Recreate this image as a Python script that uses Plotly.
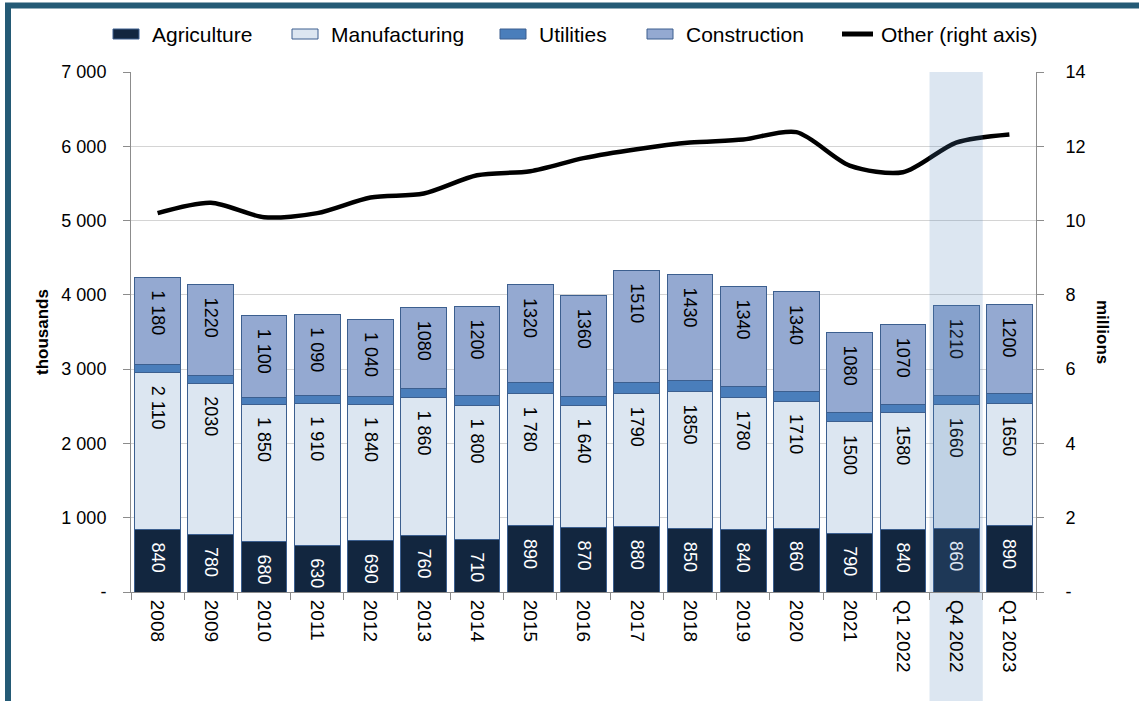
import plotly.graph_objects as go

categories = ["2008", "2009", "2010", "2011", "2012", "2013", "2014", "2015", "2016",
              "2017", "2018", "2019", "2020", "2021", "Q1 2022", "Q4 2022", "Q1 2023"]

agriculture = [840, 780, 680, 630, 690, 760, 710, 890, 870, 880, 850, 840, 860, 790, 840, 860, 890]
manufacturing = [2110, 2030, 1850, 1910, 1840, 1860, 1800, 1780, 1640, 1790, 1850, 1780, 1710, 1500, 1580, 1660, 1650]
utilities = [108, 108, 90, 108, 104, 126, 135, 144, 117, 153, 144, 153, 130, 122, 108, 122, 130]
construction = [1180, 1220, 1100, 1090, 1040, 1080, 1200, 1320, 1360, 1510, 1430, 1340, 1340, 1080, 1070, 1210, 1200]
other_millions = [10.2, 10.48, 10.09, 10.2, 10.62, 10.73, 11.22, 11.33, 11.68, 11.92, 12.1, 12.18,
                  12.38, 11.48, 11.3, 12.1, 12.32]

agriculture_labels = ["840", "780", "680", "630", "690", "760", "710", "890", "870", "880", "850",
                      "840", "860", "790", "840", "860", "890"]
manufacturing_labels = ["2 110", "2030", "1 850", "1 910", "1 840", "1 860", "1 800", "1 780", "1 640",
                        "1790", "1850", "1780", "1710", "1500", "1580", "1660", "1650"]
construction_labels = ["1 180", "1220", "1 100", "1 090", "1 040", "1080", "1200", "1320", "1360",
                       "1510", "1430", "1340", "1340", "1080", "1070", "1210", "1200"]

left_tickvals = [0, 1000, 2000, 3000, 4000, 5000, 6000, 7000]
left_ticktext = ["-", "1 000", "2 000", "3 000", "4 000", "5 000", "6 000", "7 000"]
right_tickvals = [0, 2, 4, 6, 8, 10, 12, 14]
right_ticktext = ["-", "2", "4", "6", "8", "10", "12", "14"]
highlight_category_index = 15

series_names = ["Agriculture", "Manufacturing", "Utilities", "Construction", "Other (right axis)"]
series_colors = ["#12263f", "#dce6f1", "#4a7ebb", "#94a9d1", "black"]

FONT = "Liberation Sans, Arial, sans-serif"
W, H = 1139, 701
L, R, T, B = 131, 103, 72, 109
PW, PH = W - L - R, H - T - B


def px_x(p):
    return (p - L) / PW


def px_y(p):
    return (H - B - p) / PH


pad = "\u00a0\u00a0"
bar_line = dict(color="#3c5f8f", width=1)

fig = go.Figure()


def add_bar(name, vals, color, labels=None, tcolor="black"):
    fig.add_trace(go.Bar(
        name=name, x=categories, y=vals,
        marker=dict(color=color, line=bar_line),
        text=[pad + t for t in labels] if labels else None,
        textposition="inside" if labels else "none",
        insidetextanchor="end",
        textangle=90,
        constraintext="none",
        textfont=dict(family=FONT, size=18, color=tcolor),
        hoverinfo="skip",
        showlegend=False,
    ))


add_bar(series_names[0], agriculture, series_colors[0], agriculture_labels, "white")
add_bar(series_names[1], manufacturing, series_colors[1], manufacturing_labels)
add_bar(series_names[2], utilities, series_colors[2])
add_bar(series_names[3], construction, series_colors[3], construction_labels)

fig.add_trace(go.Scatter(
    name=series_names[4], x=categories, y=other_millions, yaxis="y2",
    mode="lines", line=dict(color="black", width=4.5, shape="spline", smoothing=0.8),
    hoverinfo="skip", showlegend=False,
))

hx0 = highlight_category_index - 0.5
hx1 = highlight_category_index + 0.5

shapes = [
    dict(type="rect", xref="x", yref="paper", x0=hx0, x1=hx1, y0=px_y(H + 20), y1=0,
         fillcolor="#dce6f1", line=dict(width=0), layer="below"),
    dict(type="rect", xref="x", yref="paper", x0=hx0, x1=hx1, y0=0, y1=1,
         fillcolor="rgba(80,130,185,0.2)", line=dict(width=0), layer="above"),
    dict(type="rect", xref="paper", yref="paper",
         x0=px_x(8), x1=px_x(W + 30), y0=px_y(5.5), y1=px_y(H + 30),
         line=dict(color="#245a75", width=6), fillcolor="rgba(0,0,0,0)", layer="above"),
]

annotations = [
    dict(text="<b>thousands</b>", xref="paper", yref="paper", x=px_x(42), y=0.5,
         textangle=-90, showarrow=False, font=dict(size=17, color="black"),
         xanchor="center", yanchor="middle"),
    dict(text="<b>millions</b>", xref="paper", yref="paper", x=px_x(1103), y=0.5,
         textangle=90, showarrow=False, font=dict(size=17, color="black"),
         xanchor="center", yanchor="middle"),
]

# custom legend (wide swatches like the original)
legend_swatch_x = [113, 292, 500, 647, 842]
legend_y = 34
for i, (name, color) in enumerate(zip(series_names, series_colors)):
    sx = legend_swatch_x[i]
    if i < 4:
        shapes.append(dict(type="rect", xref="paper", yref="paper",
                           x0=px_x(sx), x1=px_x(sx + 26), y0=px_y(legend_y + 5), y1=px_y(legend_y - 5),
                           fillcolor=color, line=dict(color="#3c5f8f", width=1), layer="above"))
    else:
        shapes.append(dict(type="line", xref="paper", yref="paper",
                           x0=px_x(sx), x1=px_x(sx + 31), y0=px_y(legend_y), y1=px_y(legend_y),
                           line=dict(color=color, width=5), layer="above"))
    annotations.append(dict(text=name, xref="paper", yref="paper", x=px_x(sx + 37), y=px_y(legend_y),
                            xanchor="left", yanchor="middle", showarrow=False,
                            font=dict(size=21, color="black")))

fig.update_layout(
    width=W, height=H,
    margin=dict(l=L, r=R, t=T, b=B, autoexpand=False),
    paper_bgcolor="white", plot_bgcolor="white",
    barmode="stack", bargap=0.14,
    font=dict(family=FONT, size=18, color="black"),
    uniformtext=dict(minsize=18, mode="show"),
    showlegend=False,
    xaxis=dict(type="category", tickangle=90, tickfont=dict(size=19),
               showline=True, linecolor="#8c8c8c", linewidth=1,
               ticks="outside", tickson="boundaries", ticklen=7, tickcolor="#8c8c8c",
               showgrid=False, ticklabelstandoff=3),
    yaxis=dict(range=[0, 7000], tickvals=left_tickvals, ticktext=left_ticktext,
               showline=True, linecolor="#8c8c8c", linewidth=1,
               ticks="outside", ticklen=7, tickcolor="#8c8c8c",
               showgrid=True, gridcolor="#d4d4d4", gridwidth=1,
               zeroline=False, tickfont=dict(size=18), ticklabelstandoff=13),
    yaxis2=dict(range=[0, 14], tickvals=right_tickvals, ticktext=right_ticktext,
                overlaying="y", side="right",
                showline=True, linecolor="#8c8c8c", linewidth=1,
                ticks="outside", ticklen=7, tickcolor="#8c8c8c",
                showgrid=False, zeroline=False, tickfont=dict(size=18), ticklabelstandoff=18),
    shapes=shapes,
    annotations=annotations,
)

fig.write_html("out.html", config={"displayModeBar": False},
               post_script="document.body.style.margin='0';")
